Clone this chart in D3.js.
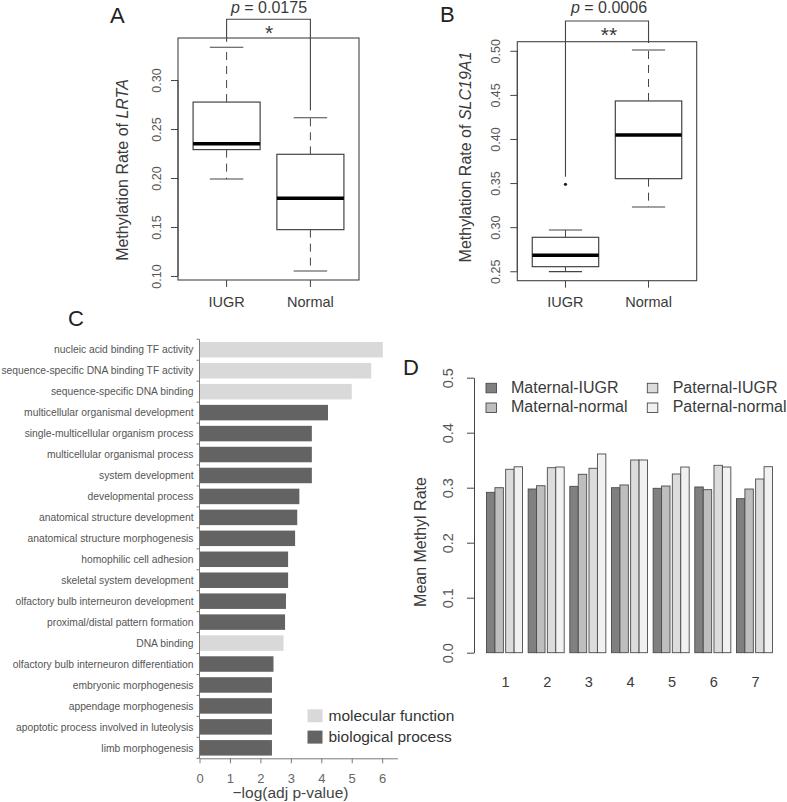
<!DOCTYPE html>
<html>
<head>
<meta charset="utf-8">
<title>Methylation figure</title>
<script src="https://d3js.org/d3.v7.min.js"></script>
<style>
  body { margin: 0; background: #fff; }
  svg text { font-family: "Liberation Sans", Arial, sans-serif; fill: #3a3a3a; }
</style>
</head>
<body>
<svg id="fig" width="787" height="802"></svg>
<script>
// ---------------- data ----------------
// box stats: lower whisker, Q1, median, Q3, upper whisker
var boxGroups = ["IUGR", "Normal"];
var lrtaIUGR   = [0.199, 0.229, 0.235, 0.2775, 0.3334];
var lrtaNormal = [0.1051, 0.1473, 0.1793, 0.2242, 0.2615];
var slcIUGR    = [0.2496, 0.2552, 0.2681, 0.2885, 0.2968];
var slcNormal  = [0.3229, 0.355, 0.4045, 0.4431, 0.5009];
var slcOutliers = [["IUGR", 0.3486]];
var lrtaTicks = [0.10, 0.15, 0.20, 0.25, 0.30];
var slcTicks  = [0.25, 0.30, 0.35, 0.40, 0.45, 0.50];

// GO enrichment
var goTerms = [
  "nucleic acid binding TF activity",
  "sequence-specific DNA binding TF activity",
  "sequence-specific DNA binding",
  "multicellular organismal development",
  "single-multicellular organism process",
  "multicellular organismal process",
  "system development",
  "developmental process",
  "anatomical structure development",
  "anatomical structure morphogenesis",
  "homophilic cell adhesion",
  "skeletal system development",
  "olfactory bulb interneuron development",
  "proximal/distal pattern formation",
  "DNA binding",
  "olfactory bulb interneuron differentiation",
  "embryonic morphogenesis",
  "appendage morphogenesis",
  "apoptotic process involved in luteolysis",
  "limb morphogenesis"
];
var goScores = [6.02, 5.64, 5.0, 4.22, 3.69, 3.69, 3.69, 3.28, 3.21, 3.14,
                2.91, 2.91, 2.84, 2.81, 2.76, 2.43, 2.38, 2.38, 2.38, 2.38];
var goTypes = ["MF", "MF", "MF", "BP", "BP", "BP", "BP", "BP", "BP", "BP",
               "BP", "BP", "BP", "BP", "MF", "BP", "BP", "BP", "BP", "BP"];
var goTypeNames = ["molecular function", "biological process"];
var goTicks = [0, 1, 2, 3, 4, 5, 6];

// mean methylation per region
var regions = ["1", "2", "3", "4", "5", "6", "7"];
var maternalIUGR   = [0.2916, 0.2976, 0.3025, 0.300, 0.2989, 0.3013, 0.280];
var maternalNormal = [0.300, 0.3036, 0.3244, 0.305, 0.3031, 0.2964, 0.2976];
var paternalIUGR   = [0.3335, 0.3364, 0.3353, 0.3504, 0.3249, 0.3407, 0.3158];
var paternalNormal = [0.338, 0.3376, 0.3613, 0.3504, 0.3376, 0.3376, 0.3382];
var methylTicks = [0.0, 0.1, 0.2, 0.3, 0.4, 0.5];

var svg = d3.select("#fig");
var lineCol = "#444";

function panelLetter(t, x, y) {
  svg.append("text").attr("x", x).attr("y", y)
    .style("font-size", "22px").style("fill", "#222").text(t);
}

// ---------------- boxplot panels (A, B) ----------------
function boxPanel(o) {
  var x = d3.scaleLinear().domain([0.42, 2.58]).range([o.x0, o.x1]);
  var y = d3.scaleLinear().domain(o.yDomain).range([o.y1, o.y0]);
  var g = svg.append("g");
  var unit = x(1) - x(0);

  // frame
  g.append("rect").attr("x", o.x0).attr("y", o.y0)
    .attr("width", o.x1 - o.x0).attr("height", o.y1 - o.y0)
    .attr("fill", "none").attr("stroke", lineCol).attr("stroke-width", 1.1);

  // y axis: ticks + rotated labels
  var yAxis = g.append("g").attr("transform", "translate(" + o.x0 + ",0)")
    .call(d3.axisLeft(y).tickValues(o.ticks).tickFormat(d3.format(".2f")).tickSize(7).tickSizeOuter(0));
  yAxis.select(".domain").attr("d", "M0," + y(o.ticks[0]) + "V" + y(o.ticks[o.ticks.length - 1]));
  yAxis.selectAll("line, path").attr("stroke", lineCol);
  yAxis.selectAll(".tick text")
    .attr("x", null).attr("dy", "0.35em")
    .attr("transform", "translate(" + (o.tickLabX - o.x0) + ",0) rotate(-90)")
    .attr("text-anchor", "middle")
    .style("font-size", "12.5px").style("fill", "#555");

  // x ticks and labels
  boxGroups.forEach(function(name, i) {
    g.append("line").attr("x1", x(i + 1)).attr("x2", x(i + 1))
      .attr("y1", o.y1).attr("y2", o.y1 + 7).attr("stroke", lineCol);
    g.append("text").attr("x", x(i + 1)).attr("y", 306.5)
      .attr("text-anchor", "middle").style("font-size", "14.5px").text(name);
  });

  // boxes
  o.stats.forEach(function(s, i) {
    var cx = x(i + 1), hw = unit * 0.4, cw = unit * 0.2;
    g.append("line").attr("x1", cx).attr("x2", cx).attr("y1", y(s[1])).attr("y2", y(s[0]))
      .attr("stroke", lineCol).attr("stroke-dasharray", "8,6");
    g.append("line").attr("x1", cx).attr("x2", cx).attr("y1", y(s[3])).attr("y2", y(s[4]))
      .attr("stroke", lineCol).attr("stroke-dasharray", "8,6");
    g.append("line").attr("x1", cx - cw).attr("x2", cx + cw).attr("y1", y(s[0])).attr("y2", y(s[0]))
      .attr("stroke", lineCol).attr("stroke-width", 1.1);
    g.append("line").attr("x1", cx - cw).attr("x2", cx + cw).attr("y1", y(s[4])).attr("y2", y(s[4]))
      .attr("stroke", lineCol).attr("stroke-width", 1.1);
    g.append("rect").attr("x", cx - hw).attr("y", y(s[3]))
      .attr("width", 2 * hw).attr("height", y(s[1]) - y(s[3]))
      .attr("fill", "#fff").attr("stroke", lineCol).attr("stroke-width", 1.2);
    g.append("line").attr("x1", cx - hw).attr("x2", cx + hw).attr("y1", y(s[2])).attr("y2", y(s[2]))
      .attr("stroke", "#000").attr("stroke-width", 3.6);
  });
  (o.outliers || []).forEach(function(p) {
    g.append("circle").attr("cx", x(boxGroups.indexOf(p[0]) + 1)).attr("cy", y(p[1]))
      .attr("r", 1.6).attr("fill", "#222");
  });

  // significance bracket
  var b = o.bracket;
  g.append("path")
    .attr("d", "M" + x(1) + "," + y(b[1]) + "V" + y(b[0]) + "H" + x(2) + "V" + y(b[2]))
    .attr("fill", "none").attr("stroke", lineCol).attr("stroke-width", 1.1);
  var pt = g.append("text").attr("x", o.pX).attr("y", 12.5).attr("text-anchor", "middle")
    .style("font-size", "16px");
  pt.append("tspan").style("font-style", "italic").text("p");
  pt.append("tspan").text(" = " + o.pText);
  g.append("text").attr("x", o.pX).attr("y", o.starY).attr("text-anchor", "middle")
    .style("font-size", "21px").text(o.stars);

  // y label
  var yl = g.append("text")
    .attr("transform", "translate(" + o.yLabX + "," + o.yLabY + ") rotate(-90)")
    .attr("text-anchor", "middle").style("font-size", "16px");
  yl.append("tspan").text("Methylation Rate of ");
  yl.append("tspan").style("font-style", "italic").text(o.gene);
}

boxPanel({
  x0: 178, x1: 359, y0: 38, y1: 280,
  yDomain: [0.0959, 0.3429], ticks: lrtaTicks,
  stats: [lrtaIUGR, lrtaNormal],
  bracket: [0.362, 0.339, 0.269],
  pX: 269, pText: "0.0175", stars: "*", starY: 40,
  tickLabX: 157, yLabX: 128, yLabY: 170, gene: "LRTA"
});
boxPanel({
  x0: 517.3, x1: 696.7, y0: 41.7, y1: 280.7,
  yDomain: [0.2393, 0.5103], ticks: slcTicks,
  stats: [slcIUGR, slcNormal], outliers: slcOutliers,
  bracket: [0.5338, 0.3573, 0.5088],
  pX: 609, pText: "0.0006", stars: "**", starY: 42,
  tickLabX: 496, yLabX: 471, yLabY: 157, gene: "SLC19A1"
});
panelLetter("A", 110, 22.7);
panelLetter("B", 440, 21.7);

// ---------------- panel C: GO bars ----------------
(function() {
  var x = d3.scaleLinear().domain([0, 6.5]).range([199.5, 397.4]);
  var y = d3.scaleBand().domain(goTerms).range([339.3, 758.3]).paddingInner(0.26).paddingOuter(0.13);
  var col = { MF: "#d9d9d9", BP: "#636363" };
  var g = svg.append("g");
  var axCol = "#7a7a7a";

  g.selectAll("rect.go").data(goTerms).enter().append("rect")
    .attr("class", "go")
    .attr("x", x(0) + 0.5)
    .attr("y", function(d) { return y(d); })
    .attr("width", function(d, i) { return x(goScores[i]) - x(0) - 0.5; })
    .attr("height", y.bandwidth())
    .attr("fill", function(d, i) { return col[goTypes[i]]; });

  g.selectAll("text.term").data(goTerms).enter().append("text")
    .attr("class", "term")
    .attr("x", 193.5)
    .attr("y", function(d) { return y(d) + y.bandwidth() / 2; })
    .attr("dy", "0.36em")
    .attr("text-anchor", "end")
    .style("font-size", "10.3px").style("fill", "#555")
    .text(function(d) { return d; });

  // left axis with ticks at band boundaries
  g.append("line").attr("x1", x(0)).attr("x2", x(0))
    .attr("y1", 339.3).attr("y2", 758.3).attr("stroke", axCol);
  var bounds = goTerms.map(function(d) { return y(d) - y.step() * y.paddingInner() / 2; });
  bounds.push(758.3);
  g.selectAll("line.bt").data(bounds).enter().append("line")
    .attr("x1", x(0) - 3).attr("x2", x(0))
    .attr("y1", function(d) { return d; }).attr("y2", function(d) { return d; })
    .attr("stroke", axCol);

  var xAxis = g.append("g").attr("transform", "translate(0,758.3)")
    .call(d3.axisBottom(x).tickValues(goTicks).tickFormat(d3.format("d")).tickSize(5).tickSizeOuter(0).tickPadding(10));
  xAxis.selectAll("line, path").attr("stroke", axCol);
  xAxis.selectAll("text").style("font-size", "13px").style("fill", "#666");

  g.append("text").attr("x", 290.5).attr("y", 798).attr("text-anchor", "middle")
    .style("font-size", "15.5px").style("fill", "#444").text("\u2212log(adj p-value)");

  // legend
  var lg = g.append("g");
  [["MF", goTypeNames[0]], ["BP", goTypeNames[1]]].forEach(function(e, i) {
    lg.append("rect").attr("x", 307.5).attr("y", 709.3 + i * 21.3)
      .attr("width", 15).attr("height", 13).attr("fill", col[e[0]]);
    lg.append("text").attr("x", 328.5).attr("y", 720.5 + i * 21.3)
      .style("font-size", "15.5px").style("fill", "#333").text(e[1]);
  });
  panelLetter("C", 68, 326);
})();

// ---------------- panel D: grouped bars ----------------
(function() {
  var series = [
    { name: "Maternal-IUGR",   pair: "M", kind: "IUGR",   values: maternalIUGR,   fill: "#808080" },
    { name: "Maternal-normal", pair: "M", kind: "normal", values: maternalNormal, fill: "#bebebe" },
    { name: "Paternal-IUGR",   pair: "P", kind: "IUGR",   values: paternalIUGR,   fill: "#dcdcdc" },
    { name: "Paternal-normal", pair: "P", kind: "normal", values: paternalNormal, fill: "#f1f1f1" }
  ];
  var y = d3.scaleLinear().domain([0, 0.5]).range([652.7, 377.7]);
  var x0 = d3.scaleBand().domain(regions).range([486.5, 772.5]).paddingInner(0.135);
  var x1 = d3.scaleBand().domain(["M", "P"]).range([0, x0.bandwidth()]).paddingInner(0.12);
  var x2 = d3.scaleBand().domain(["IUGR", "normal"]).range([0, x1.bandwidth()]);
  var g = svg.append("g");
  var barStroke = "#4a4a4a";

  series.forEach(function(s) {
    g.selectAll(null).data(regions).enter().append("rect")
      .attr("x", function(r) { return x0(r) + x1(s.pair) + x2(s.kind); })
      .attr("y", function(r, i) { return y(s.values[i]); })
      .attr("width", x2.bandwidth())
      .attr("height", function(r, i) { return y(0) - y(s.values[i]); })
      .attr("fill", s.fill).attr("stroke", barStroke).attr("stroke-width", 0.9);
  });

  var yAxis = g.append("g").attr("transform", "translate(474,0)")
    .call(d3.axisLeft(y).tickValues(methylTicks).tickFormat(d3.format(".1f")).tickSize(7).tickSizeOuter(0));
  yAxis.selectAll("line, path").attr("stroke", lineCol);
  yAxis.selectAll(".tick text")
    .attr("x", null).attr("dy", "0.35em")
    .attr("transform", "translate(-26,0) rotate(-90)")
    .attr("text-anchor", "middle")
    .style("font-size", "14.5px").style("fill", "#555");

  g.selectAll("text.reg").data(regions).enter().append("text")
    .attr("class", "reg")
    .attr("x", function(r) { return x0(r) + x0.bandwidth() / 2 + 1; })
    .attr("y", 686.5).attr("text-anchor", "middle")
    .style("font-size", "14.5px").text(function(r) { return r; });

  g.append("text").attr("transform", "translate(420,542) rotate(-90)")
    .attr("dy", "0.35em")
    .attr("text-anchor", "middle").style("font-size", "16px").text("Mean Methyl Rate");

  // legend
  var pos = [[486, 511, 383.3], [486, 511, 403], [647.3, 672.7, 383.3], [647.3, 672.7, 403]];
  series.forEach(function(s, i) {
    var p = pos[i];
    g.append("rect").attr("x", p[0]).attr("y", p[2])
      .attr("width", 10.5).attr("height", 9.5)
      .attr("fill", s.fill).attr("stroke", barStroke).attr("stroke-width", 0.9);
    g.append("text").attr("x", p[1]).attr("y", p[2] + 9.3)
      .style("font-size", "16px").text(s.name);
  });
  panelLetter("D", 403, 375);
})();
</script>
</body>
</html>
